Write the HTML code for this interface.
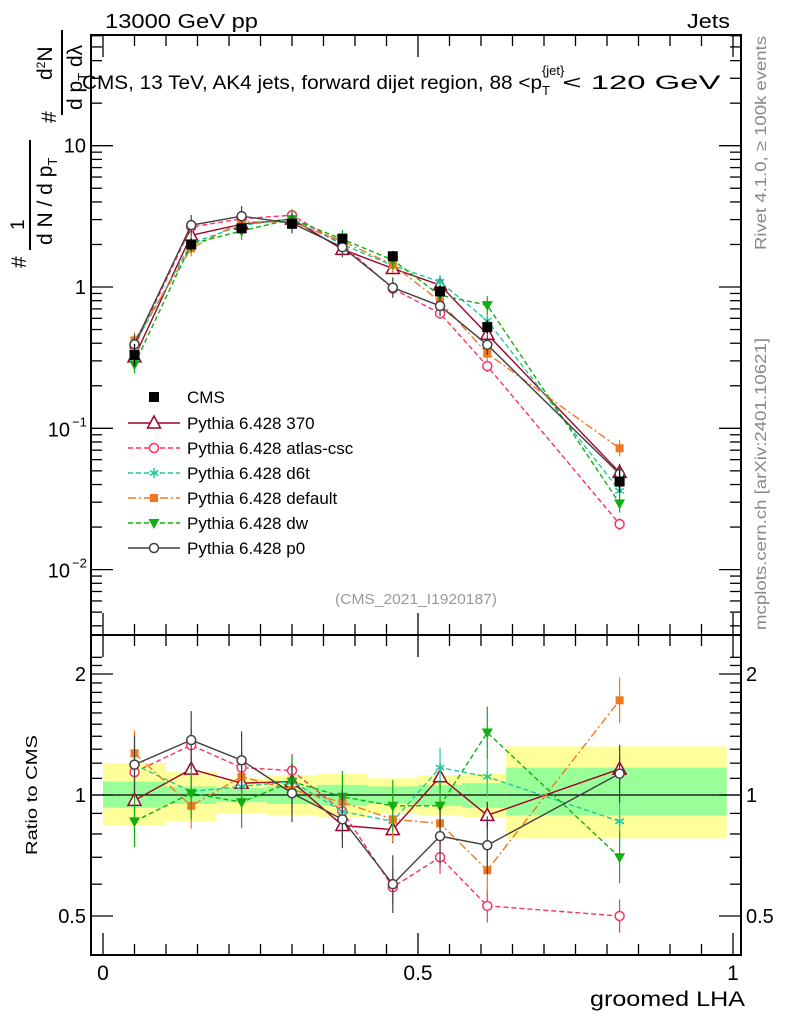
<!DOCTYPE html>
<html><head><meta charset="utf-8"><style>
body{margin:0;background:#fff;}
svg{display:block;font-family:"Liberation Sans",sans-serif;}
</style></head><body>
<svg id="c" width="786" height="1024" viewBox="0 0 786 1024">
<g id="bands"></g>
<g id="axes"></g>
<g id="series"></g>
<text x="105" y="28" font-size="20" textLength="153" lengthAdjust="spacingAndGlyphs">13000 GeV pp</text>
<text x="687" y="28" font-size="20" textLength="43" lengthAdjust="spacingAndGlyphs">Jets</text>
<text x="82" y="89" font-size="19"><tspan textLength="460" lengthAdjust="spacingAndGlyphs">CMS, 13 TeV, AK4 jets, forward dijet region, 88 &lt;p</tspan><tspan font-size="13" dy="6">T</tspan><tspan font-size="13" dy="-20" dx="-8">{jet}</tspan><tspan dy="14" dx="-2" textLength="158" lengthAdjust="spacingAndGlyphs">&lt; 120 GeV</tspan></text>
<text x="416" y="604" font-size="15" fill="#999" text-anchor="middle" textLength="162" lengthAdjust="spacingAndGlyphs">(CMS_2021_I1920187)</text>
<text transform="translate(766,250) rotate(-90)" font-size="16" fill="#888" textLength="214" lengthAdjust="spacingAndGlyphs">Rivet 4.1.0, ≥ 100k events</text>
<text transform="translate(766,630) rotate(-90)" font-size="16" fill="#888" textLength="292" lengthAdjust="spacingAndGlyphs">mcplots.cern.ch [arXiv:2401.10621]</text>
<g font-size="21">
<text transform="translate(26,268) rotate(-90)">#</text>
<text transform="translate(24,230) rotate(-90)" font-size="19">1</text>
<line x1="30" y1="140" x2="30" y2="250" stroke="#000" stroke-width="2"/>
<text transform="translate(52,245) rotate(-90)">d N / d p<tspan font-size="13" dy="5">T</tspan></text>
<text transform="translate(56,123) rotate(-90)">#</text>
<line x1="62" y1="30" x2="62" y2="115" stroke="#000" stroke-width="2"/>
<text transform="translate(52,80) rotate(-90)">d<tspan font-size="12" dy="-7">2</tspan><tspan dy="7">N</tspan></text>
<text transform="translate(82,110) rotate(-90)">d p<tspan font-size="13" dy="5">T</tspan><tspan dy="-5"> dλ</tspan></text>
</g>
<text transform="translate(37,795) rotate(-90)" font-size="16" text-anchor="middle" textLength="120" lengthAdjust="spacingAndGlyphs">Ratio to CMS</text>
<text x="590" y="1006" font-size="21" textLength="155" lengthAdjust="spacingAndGlyphs">groomed LHA</text>
<g id="legend"></g>
</svg>
<script>
const xCenters=[0.05,0.14,0.22,0.30,0.38,0.46,0.535,0.61,0.82];
const binEdges=[0,0.1,0.18,0.26,0.34,0.42,0.5,0.57,0.64,0.99];
const cmsValues=[0.33,2.0,2.6,2.8,2.2,1.65,0.93,0.52,0.042];
const cmsErr=[0.2,0.1,0.08,0.07,0.08,0.09,0.1,0.12,0.2];
const bandYellowUp=[1.2,1.14,1.1,1.12,1.13,1.1,1.12,1.13,1.32];
const bandYellowDn=[0.84,0.86,0.9,0.89,0.88,0.9,0.89,0.88,0.78];
const bandGreenUp=[1.08,1.05,1.04,1.05,1.06,1.05,1.06,1.07,1.17];
const bandGreenDn=[0.93,0.95,0.96,0.95,0.94,0.95,0.94,0.93,0.89];
const seriesNames=["Pythia 6.428 370","Pythia 6.428 atlas-csc","Pythia 6.428 d6t","Pythia 6.428 default","Pythia 6.428 dw","Pythia 6.428 p0"];
const ratio370=[0.97,1.16,1.07,1.08,0.84,0.82,1.11,0.89,1.16];
const ratioAtlas=[1.14,1.33,1.17,1.15,0.91,0.59,0.70,0.53,0.50];
const ratioD6t=[1.19,1.02,1.05,1.08,0.91,0.86,1.17,1.11,0.86];
const ratioDefault=[1.27,0.94,1.11,1.03,0.96,0.87,0.85,0.65,1.72];
const ratioDw=[0.86,1.01,0.96,1.08,0.99,0.94,0.94,1.43,0.70];
const ratioP0=[1.19,1.37,1.22,1.01,0.87,0.60,0.79,0.75,1.13];
const ratioSets=[ratio370,ratioAtlas,ratioD6t,ratioDefault,ratioDw,ratioP0];
const colors=["#a0002a","#ff3060","#20c8a0","#f07820","#10b010","#404040"];
const dashes=["","5,3","5,3","8,3,2,3","5,3",""];
const markers=["tri","circ","star","sq","tridn","circ"];
const mainYTicks=[["10","−1",0.1],["10","−2",0.01]];
const xTickLabels=["0","0.5","1"];
const xTickVals=[0,0.5,1];
const ratioTickVals=[0.5,1,2];

const NS="http://www.w3.org/2000/svg";
const L=91,R=741,T=35,MB=635,RB=955;
const X=v=>103+630*v;
const Y=v=>287-141.3*Math.log10(v);
const RY=v=>795-402*Math.log10(v);
function mk(tag,attrs,parent){const e=document.createElementNS(NS,tag);for(const k in attrs)e.setAttribute(k,attrs[k]);parent.appendChild(e);return e;}
const axes=document.getElementById('axes'),bands=document.getElementById('bands'),ser=document.getElementById('series'),leg=document.getElementById('legend');

for(let i=0;i<binEdges.length-1;i++){
 const y=mk('rect',{x:X(binEdges[i]),y:RY(bandYellowUp[i]),width:X(binEdges[i+1])-X(binEdges[i]),height:RY(bandYellowDn[i])-RY(bandYellowUp[i]),fill:'#ffff99'},bands);
 
 
 const g=mk('rect',{x:X(binEdges[i]),y:RY(bandGreenUp[i]),width:X(binEdges[i+1])-X(binEdges[i]),height:RY(bandGreenDn[i])-RY(bandGreenUp[i]),fill:'#99ff99'},bands);
 
 
}
mk('line',{x1:L,x2:R,y1:RY(1),y2:RY(1),stroke:'#000','stroke-width':1.3},bands);

mk('rect',{x:L,y:T,width:R-L,height:MB-T,fill:'none',stroke:'#000','stroke-width':2},axes);
mk('rect',{x:L,y:MB,width:R-L,height:RB-MB,fill:'none',stroke:'#000','stroke-width':2},axes);
for(let d=-3;d<=1;d++){for(let m=1;m<10;m++){const v=m*Math.pow(10,d);const y=Y(v);if(y<T||y>MB)continue;const len=m==1?22:11;
 mk('line',{x1:L,x2:L+len,y1:y,y2:y,stroke:'#000','stroke-width':1.3},axes);
 mk('line',{x1:R,x2:R-len,y1:y,y2:y,stroke:'#000','stroke-width':1.3},axes);}}
const t10=mk('text',{x:86,y:Y(10)+7,'font-size':20,'text-anchor':'end'},axes);t10.textContent='10';
const t1=mk('text',{x:86,y:Y(1)+7,'font-size':20,'text-anchor':'end'},axes);t1.textContent='1';
mainYTicks.forEach(t=>{const e=mk('text',{x:70,y:Y(t[2])+8,'font-size':20,'text-anchor':'end'},axes);e.textContent=t[0];
 const s=mk('text',{x:72,y:Y(t[2])-2,'font-size':13},axes);s.textContent=t[1];});
for(let v=0.4;v<=2.3;v+=0.1){const y=RY(v);if(y<MB||y>RB)continue;const maj=ratioTickVals.some(r=>Math.abs(r-v)<1e-6);const len=maj?22:11;
 mk('line',{x1:L,x2:L+len,y1:y,y2:y,stroke:'#000','stroke-width':1.3},axes);
 mk('line',{x1:R,x2:R-len,y1:y,y2:y,stroke:'#000','stroke-width':1.3},axes);}
ratioTickVals.forEach(v=>{const lab=String(v);
 const a=mk('text',{x:86,y:RY(v)+7,'font-size':20,'text-anchor':'end'},axes);a.textContent=lab;
 const b=mk('text',{x:746,y:RY(v)+7,'font-size':20},axes);b.textContent=lab;});
for(let k=-0.05;k<=1.05;k+=0.05){const v=Math.round(k*100)/100;const x=X(v);if(x<L||x>R)continue;const maj=Math.abs(v*10-Math.round(v*10))<1e-6&&Math.round(v*10)%5==0;const len=maj?22:11;
 [T,MB].forEach(y0=>mk('line',{x1:x,x2:x,y1:y0,y2:y0+len,stroke:'#000','stroke-width':1.3},axes));
 mk('line',{x1:x,x2:x,y1:MB,y2:MB-len,stroke:'#000','stroke-width':1.3},axes);
 mk('line',{x1:x,x2:x,y1:RB,y2:RB-len,stroke:'#000','stroke-width':1.3},axes);}
xTickVals.forEach((v,i)=>{const e=mk('text',{x:X(v),y:980,'font-size':21,'text-anchor':'middle'},axes);e.textContent=xTickLabels[i];});

function marker(type,x,y,c,parent){
 if(type=='tri')return mk('path',{d:`M${x},${y-7}L${x+6.5},${y+5}L${x-6.5},${y+5}Z`,fill:'#fff',stroke:c,'stroke-width':1.5},parent);
 if(type=='tridn')return mk('path',{d:`M${x},${y+6}L${x+5.5},${y-4}L${x-5.5},${y-4}Z`,fill:c},parent);
 if(type=='circ')return mk('circle',{cx:x,cy:y,r:4.5,fill:'#fff',stroke:c,'stroke-width':1.5},parent);
 if(type=='sq')return mk('rect',{x:x-4,y:y-4,width:8,height:8,fill:c},parent);
 if(type=='star'){const g=mk('g',{stroke:c,'stroke-width':1.5},parent);[[0,5],[4.3,2.5],[4.3,-2.5]].forEach(p=>mk('line',{x1:x-p[0],y1:y-p[1],x2:x+p[0],y2:y+p[1]},g));return g;}
 if(type=='bsq')return mk('rect',{x:x-5,y:y-5,width:10,height:10,fill:c},parent);
}

ratioSets.forEach((rs,si)=>{
 const c=colors[si];
 const g=mk('g',{},ser);
 
 
 const pm=xCenters.map((x,i)=>X(x)+','+Y(cmsValues[i]*rs[i])).join(' ');
 const pr=xCenters.map((x,i)=>X(x)+','+RY(rs[i])).join(' ');
 const attrs={fill:'none',stroke:c,'stroke-width':1.4};if(dashes[si])attrs['stroke-dasharray']=dashes[si];
 mk('polyline',Object.assign({points:pm},attrs),g);
 mk('polyline',Object.assign({points:pr},attrs),g);
 xCenters.forEach((x,i)=>{const v=cmsValues[i]*rs[i];const e=0.08+0.02*si;
  mk('line',{x1:X(x),x2:X(x),y1:Y(v*(1+e)),y2:Y(v/(1+e)),stroke:c,'stroke-width':1.2},g);
  mk('line',{x1:X(x),x2:X(x),y1:RY(rs[i]*(1+e)),y2:RY(rs[i]/(1+e)),stroke:c,'stroke-width':1.2},g);
  const m=marker(markers[si],X(x),Y(v),c,g);
  
  
  marker(markers[si],X(x),RY(rs[i]),c,g);});
});
const cg=mk('g',{},ser);


xCenters.forEach((x,i)=>{const v=cmsValues[i];mk('line',{x1:X(x),x2:X(x),y1:Y(v*(1+cmsErr[i])),y2:Y(v/(1+cmsErr[i])),stroke:'#000','stroke-width':1.3},cg);
 const m=marker('bsq',X(x),Y(v),'#000',cg);
 
 });

const cmsL=mk('g',{},leg);


marker('bsq',154,397,'#000',cmsL);
const ct=mk('text',{x:187,y:403,'font-size':17},cmsL);ct.textContent='CMS';
seriesNames.forEach((n,si)=>{const y=423+25*si;const g=mk('g',{},leg);
 
 
 const a={x1:128,x2:180,y1:y,y2:y,stroke:colors[si],'stroke-width':1.4};if(dashes[si])a['stroke-dasharray']=dashes[si];
 mk('line',a,g);marker(markers[si],154,y,colors[si],g);
 const t=mk('text',{x:187,y:y+6,'font-size':17},g);t.textContent=n;});
</script>
</body></html>
